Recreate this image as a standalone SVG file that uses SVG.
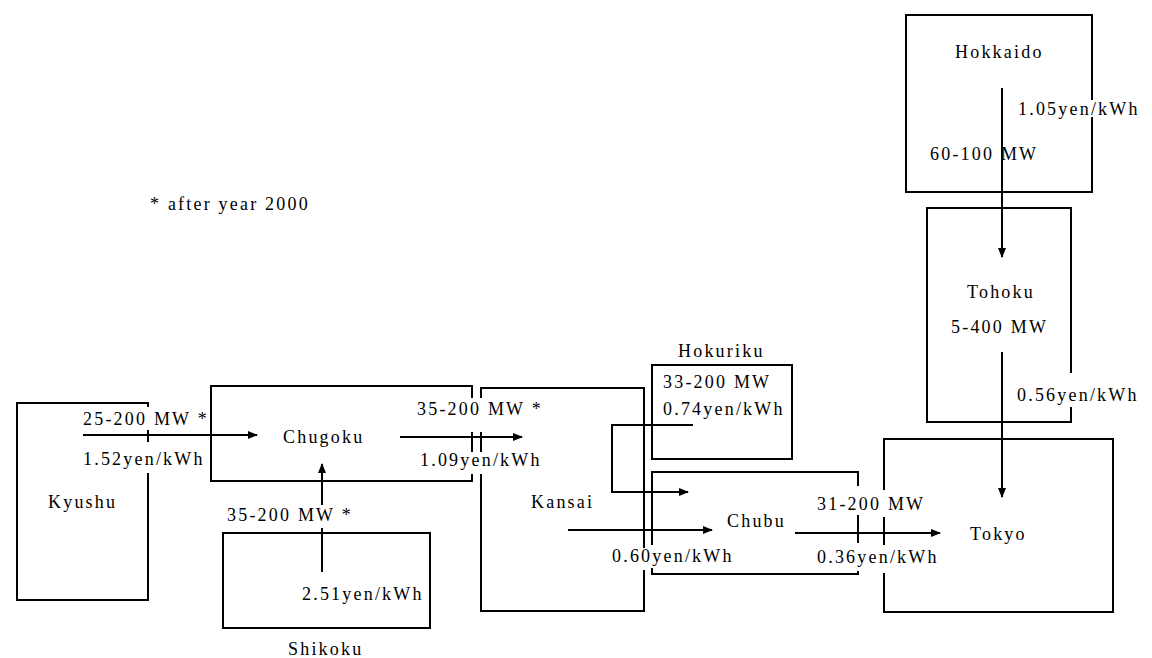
<svg xmlns="http://www.w3.org/2000/svg" width="1152" height="658" viewBox="0 0 1152 658">
<style>
text{font-family:"Liberation Serif","Times New Roman",serif;font-size:18px;letter-spacing:2.2px;fill:#000}
.box{fill:none;stroke:#000;stroke-width:2}
.conn{fill:none;stroke:#000;stroke-width:2}
</style>
<defs>
<marker id="ah" viewBox="0 0 10 8" refX="9" refY="4" markerWidth="5" markerHeight="4" orient="auto" markerUnits="strokeWidth">
<path d="M0,0 L10,4 L0,8 Z" fill="#000"/>
</marker>
</defs>
<rect width="1152" height="658" fill="#fff"/>
<text x="150" y="210">* after year 2000</text>
<g id="kyushu">
<path class="box" d="M148,473 V600 H17 V403 H148 V407 M148,430 V442"/>
<text x="48" y="508">Kyushu</text>
</g>
<g id="chugoku">
<path class="box" d="M472,398 V386 H211 V481 H472 V474 M472,432 V452"/>
<text x="283" y="443">Chugoku</text>
</g>
<g id="shikoku">
<rect class="box" x="223" y="533" width="207" height="95"/>
<text x="288" y="655">Shikoku</text>
</g>
<g id="kansai">
<path class="box" d="M481,398 V388 H644 V548 M644,570 V611 H481 V474 M481,432 V452"/>
<text x="531" y="508">Kansai</text>
</g>
<g id="hokuriku">
<rect class="box" x="652" y="365" width="140" height="94"/>
<text x="678" y="357">Hokuriku</text>
</g>
<g id="chubu">
<path class="box" d="M652,545 V472 H858 V486 M858,515 V543 M858,571 V574 H652 V568"/>
<text x="727" y="527">Chubu</text>
</g>
<g id="tokyo">
<path class="box" d="M884,490 V439 H1113 V612 H884 V573 M884,517 V545"/>
<text x="970" y="540">Tokyo</text>
</g>
<g id="tohoku">
<path class="box" d="M1071,373 V208 H927 V422 H1071 V407"/>
<text x="967" y="298">Tohoku</text>
<text x="951" y="333">5-400 MW</text>
</g>
<g id="hokkaido">
<path class="box" d="M1092,100 V15 H906 V192 H1092 V117"/>
<text x="955" y="58">Hokkaido</text>
</g>
<g id="connectors">
<path class="conn" d="M83,435 H257" marker-end="url(#ah)"/>
<path class="conn" d="M400,437 H522" marker-end="url(#ah)"/>
<path class="conn" d="M322,572 V528 M322,505 V464" marker-end="url(#ah)"/>
<path class="conn" d="M568,530 H712" marker-end="url(#ah)"/>
<path class="conn" d="M795,533 H940" marker-end="url(#ah)"/>
<path class="conn" d="M1002,88 V257" marker-end="url(#ah)"/>
<path class="conn" d="M1002,352 V497" marker-end="url(#ah)"/>
<path class="conn" d="M693,425 H612 V492 H688" marker-end="url(#ah)"/>
</g>
<g id="labels">
<text x="83" y="425">25-200 MW *</text>
<text x="83" y="465">1.52yen/kWh</text>
<text x="417" y="415">35-200 MW *</text>
<text x="420" y="466">1.09yen/kWh</text>
<text x="227" y="521">35-200 MW *</text>
<text x="302" y="600">2.51yen/kWh</text>
<text x="663" y="388">33-200 MW</text>
<text x="663" y="415">0.74yen/kWh</text>
<text x="612" y="562">0.60yen/kWh</text>
<text x="817" y="510">31-200 MW</text>
<text x="817" y="563">0.36yen/kWh</text>
<text x="1017" y="401">0.56yen/kWh</text>
<text x="1018" y="115">1.05yen/kWh</text>
<text x="930" y="160">60-100 MW</text>
</g>
</svg>
